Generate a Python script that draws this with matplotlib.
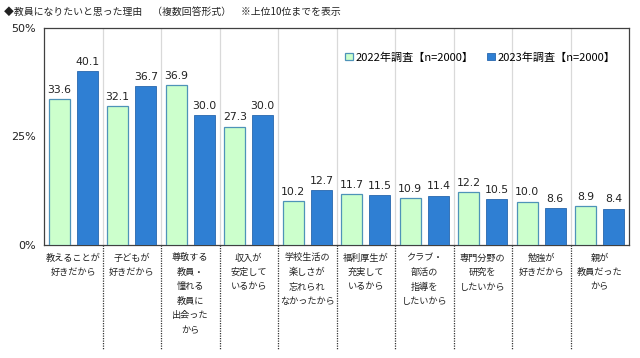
import matplotlib
matplotlib.use("Agg")
import matplotlib.pyplot as plt
import matplotlib.transforms as mtransforms
import numpy as np

plt.rcParams['font.family'] = ['Noto Sans CJK JP', 'DejaVu Sans']

categories = [
    "教えることが\n好きだから",
    "子どもが\n好きだから",
    "尊敬する\n教員・\n憧れる\n教員に\n出会った\nから",
    "収入が\n安定して\nいるから",
    "学校生活の\n楽しさが\n忘れられ\nなかったから",
    "福利厚生が\n充実して\nいるから",
    "クラブ・\n部活の\n指導を\nしたいから",
    "専門分野の\n研究を\nしたいから",
    "勉強が\n好きだから",
    "親が\n教員だった\nから",
]
values_2022 = [33.6, 32.1, 36.9, 27.3, 10.2, 11.7, 10.9, 12.2, 10.0, 8.9]
values_2023 = [40.1, 36.7, 30.0, 30.0, 12.7, 11.5, 11.4, 10.5, 8.6, 8.4]
series_names = ["2022年調査【n=2000】", "2023年調査【n=2000】"]
y_ticks = [0, 25, 50]
y_tick_labels = ["0%", "25%", "50%"]
title = "◆教員になりたいと思った理由　（複数回答形式）　※上位10位までを表示"

fig = plt.figure(figsize=(6.4, 3.58), dpi=100)
ax = fig.add_axes([44/640, 1-245/358, (629-44)/640, (245-28)/358])

x = np.arange(len(categories))
w = 0.36
off = 0.24
b1 = ax.bar(x - off, values_2022, w, color="#CCFFCC", edgecolor="#4E93B8", linewidth=0.9,
            label=series_names[0], zorder=3)
b2 = ax.bar(x + off, values_2023, w, color="#2F7FD3", edgecolor="#2867AE", linewidth=0.6,
            label=series_names[1], zorder=3)

for bars, vals in ((b1, values_2022), (b2, values_2023)):
    for rect, v in zip(bars, vals):
        ax.annotate(f"{v:.1f}", (rect.get_x() + rect.get_width()/2, rect.get_height()),
                    xytext=(0, 3), textcoords="offset points", ha="center", va="bottom",
                    fontsize=7.8, family="DejaVu Sans", color="#222222")

ax.set_xlim(-0.5, len(categories) - 0.5)
ax.set_ylim(0, 50)
ax.set_yticks(y_ticks)
ax.set_yticklabels(y_tick_labels, fontsize=8, family="DejaVu Sans", color="#222222")
ax.tick_params(axis="y", length=0, pad=6)

ax.set_xticks(x)
ax.set_xticklabels(categories, fontsize=6.6, color="#222222")
ax.tick_params(axis="x", length=0, pad=6)
for lab in ax.get_xticklabels():
    lab.set_linespacing(1.78)
    lab.set_verticalalignment("top")

# vertical gridlines at category boundaries
bounds = np.arange(0.5, len(categories) - 0.5, 1.0)
for bx in bounds:
    ax.axvline(bx, color="#D9D9D9", linewidth=0.9, zorder=1)
trans = mtransforms.blended_transform_factory(ax.transData, ax.transAxes)
for bx in bounds:
    ax.plot([bx, bx], [0, -(350-245)/217], transform=trans, color="#333333",
            linewidth=0.9, linestyle=(0, (1, 1)), clip_on=False, zorder=1)

for s in ax.spines.values():
    s.set_color("#404040")
    s.set_linewidth(0.9)

leg = ax.legend(loc="upper right", bbox_to_anchor=(0.985, 0.91), ncol=2, frameon=False,
                fontsize=8, handlelength=0.7, handleheight=0.7, handletextpad=0.25,
                columnspacing=1.2, borderaxespad=0)

fig.text(4/640, 1-12/358, title, fontsize=7.1, va="center", ha="left", color="#222222")

fig.savefig("out.png", dpi=100)
